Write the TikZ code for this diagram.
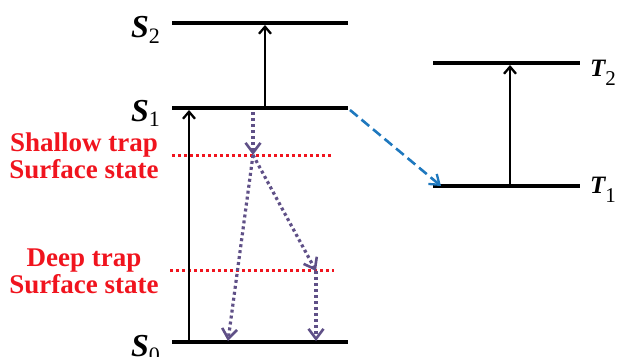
\documentclass[tikz,border=0pt]{standalone}
\usepackage{fontspec}
\setmainfont{Liberation Serif}
\usetikzlibrary{arrows.meta}
\definecolor{trapred}{RGB}{240,20,30}
\definecolor{relaxpurple}{RGB}{95,80,135}
\definecolor{iscblue}{RGB}{30,120,190}
\begin{document}
\begin{tikzpicture}[x=1pt,y=-1pt,
  level/.style={line width=4.5pt},
  trap/.style={trapred,line width=3pt,dash pattern=on 3pt off 3pt},
  exc/.style={line width=2.5pt,-{Straight Barb[length=7pt,width=12pt,line width=2.3pt]}},
  relax/.style={relaxpurple,line width=3.2pt,dash pattern=on 3pt off 3pt,-{Straight Barb[length=10pt,width=15pt,line width=2.6pt]}},
  isc/.style={iscblue,line width=2.6pt,dash pattern=on 10pt off 5pt,-{Straight Barb[length=9pt,width=13pt,line width=2.3pt]}},
  slab/.style={inner sep=0pt,anchor=base west,font=\bfseries\itshape\fontsize{32}{34}\selectfont},
  tlab/.style={inner sep=0pt,anchor=base west,font=\bfseries\itshape\fontsize{25}{26}\selectfont},
  trl/.style={trapred,inner sep=0pt,anchor=base,font=\bfseries\fontsize{27}{27}\selectfont}]
\useasboundingbox (0,0) rectangle (618,356);
% levels
\coordinate (S2a) at (172,23); \coordinate (S2b) at (348,23);
\coordinate (S1a) at (172,108); \coordinate (S1b) at (348,108);
\coordinate (S0a) at (172,342); \coordinate (S0b) at (348,342);
\coordinate (T2a) at (433,63); \coordinate (T2b) at (580,63);
\coordinate (T1a) at (433,186); \coordinate (T1b) at (580,186);
\draw[level] (S2a) -- (S2b);
\draw[level] (S1a) -- (S1b);
\draw[level] (S0a) -- (S0b);
\draw[level] (T2a) -- (T2b);
\draw[level] (T1a) -- (T1b);
% traps
\coordinate (sha) at (172,155); \coordinate (shb) at (333,155);
\coordinate (dpa) at (170,270); \coordinate (dpb) at (334,270);
\draw[trap] (sha) -- (shb);
\draw[trap] (dpa) -- (dpb);
% labels
\node[slab] (lS2) at (131,37) {S\raisebox{-6pt}{\fontsize{22}{22}\selectfont\mdseries\upshape 2}};
\node[slab] (lS1) at (131,121) {S\raisebox{-5pt}{\fontsize{22}{22}\selectfont\mdseries\upshape 1}};
\node[slab] (lS0) at (131,356) {S\raisebox{-6pt}{\fontsize{22}{22}\selectfont\mdseries\upshape 0}};
\node[tlab] (lT2) at (590,76) {T\raisebox{-9pt}{\fontsize{21}{21}\selectfont\mdseries\upshape 2}};
\node[tlab] (lT1) at (590,193) {T\raisebox{-9pt}{\fontsize{21}{21}\selectfont\mdseries\upshape 1}};
\node[trl] (lsh1) at (84,151) {Shallow trap};
\node[trl] (lsh2) at (84,178) {Surface state};
\node[trl] (ldp1) at (84,266) {Deep trap};
\node[trl] (ldp2) at (84,293) {Surface state};
% excitation arrows
\coordinate (e1a) at (189,340); \coordinate (e1b) at (189,110);
\coordinate (e2a) at (265,106); \coordinate (e2b) at (265,25);
\coordinate (e3a) at (510,184); \coordinate (e3b) at (510,65);
\draw[exc] (e1a) -- (e1b);
\draw[exc] (e2a) -- (e2b);
\draw[exc] (e3a) -- (e3b);
% ISC
\coordinate (ia) at (350,110); \coordinate (ib) at (441,186);
\draw[isc] (ia) -- (ib);
% relaxation
\coordinate (r0) at (253,112); \coordinate (r1) at (253,155);
\coordinate (r2) at (228,341); \coordinate (r3) at (316,271);
\coordinate (r4) at (316,341);
\draw[relax] (r0) -- (r1);
\draw[relax] (r1) -- (r2);
\draw[relax] (r1) -- (r3);
\draw[relax] (r3) -- (r4);
\end{tikzpicture}
\end{document}
